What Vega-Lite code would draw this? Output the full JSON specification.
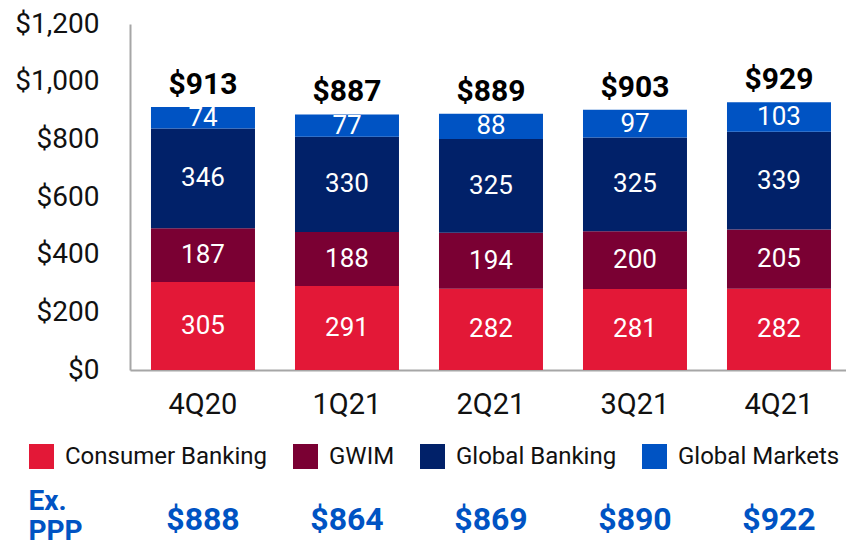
{
  "$schema": "https://vega.github.io/schema/vega-lite/v6.json",
  "width": 716,
  "height": 346,
  "autosize": {"type": "none"},
  "padding": {"left": 130, "top": 24, "right": 0, "bottom": 178},
  "config": {
    "view": {"stroke": null},
    "font": "Roboto",
    "axis": {"grid": false, "ticks": false}
  },
  "datasets": {
    "segments": [
      {"quarter": "4Q20", "segment": "Consumer Banking", "value": 305},
      {"quarter": "4Q20", "segment": "GWIM", "value": 187},
      {"quarter": "4Q20", "segment": "Global Banking", "value": 346},
      {"quarter": "4Q20", "segment": "Global Markets", "value": 74},
      {"quarter": "1Q21", "segment": "Consumer Banking", "value": 291},
      {"quarter": "1Q21", "segment": "GWIM", "value": 188},
      {"quarter": "1Q21", "segment": "Global Banking", "value": 330},
      {"quarter": "1Q21", "segment": "Global Markets", "value": 77},
      {"quarter": "2Q21", "segment": "Consumer Banking", "value": 282},
      {"quarter": "2Q21", "segment": "GWIM", "value": 194},
      {"quarter": "2Q21", "segment": "Global Banking", "value": 325},
      {"quarter": "2Q21", "segment": "Global Markets", "value": 88},
      {"quarter": "3Q21", "segment": "Consumer Banking", "value": 281},
      {"quarter": "3Q21", "segment": "GWIM", "value": 200},
      {"quarter": "3Q21", "segment": "Global Banking", "value": 325},
      {"quarter": "3Q21", "segment": "Global Markets", "value": 97},
      {"quarter": "4Q21", "segment": "Consumer Banking", "value": 282},
      {"quarter": "4Q21", "segment": "GWIM", "value": 205},
      {"quarter": "4Q21", "segment": "Global Banking", "value": 339},
      {"quarter": "4Q21", "segment": "Global Markets", "value": 103}
    ],
    "summary": [
      {"quarter": "4Q20", "total": 913, "ppp": 888},
      {"quarter": "1Q21", "total": 887, "ppp": 864},
      {"quarter": "2Q21", "total": 889, "ppp": 869},
      {"quarter": "3Q21", "total": 903, "ppp": 890},
      {"quarter": "4Q21", "total": 929, "ppp": 922}
    ]
  },
  "layer": [
    {
      "data": {"name": "segments"},
      "transform": [
        {"stack": "value", "groupby": ["quarter"], "sort": [{"field": "segment", "order": "ascending"}], "as": ["v0", "v1"]}
      ],
      "mark": {"type": "bar"},
      "encoding": {
        "x": {
          "field": "quarter", "type": "nominal", "sort": null,
          "scale": {"paddingInner": 0.2778, "paddingOuter": 0.125, "align": 0.583},
          "axis": {
            "title": null, "labelAngle": 0, "labelFontSize": 29, "labelColor": "#111111",
            "labelPadding": 20, "domainColor": "#a6a6a6", "domainWidth": 2
          }
        },
        "y": {
          "field": "v0", "type": "quantitative",
          "scale": {"domain": [0, 1200], "nice": false},
          "axis": {
            "values": [0, 200, 400, 600, 800, 1000, 1200], "format": "$,.0f",
            "labelFontSize": 28, "labelColor": "#111111", "labelPadding": 31,
            "domainColor": "#a6a6a6", "domainWidth": 2,
            "title": ["Ex.", "PPP"], "titleAngle": 0, "titleX": -102, "titleY": 485,
            "titleAlign": "left", "titleBaseline": "alphabetic", "titleFontSize": 28,
            "titleFontWeight": "bold", "titleColor": "#0053C3", "titleLineHeight": 30
          }
        },
        "y2": {"field": "v1"},
        "color": {
          "field": "segment", "type": "nominal",
          "scale": {
            "domain": ["Consumer Banking", "GWIM", "Global Banking", "Global Markets"],
            "range": ["#E31837", "#7A0033", "#012169", "#0053C3"]
          },
          "legend": {
            "title": null, "orient": "none", "direction": "horizontal", "columns": 4,
            "legendX": -101, "legendY": 420, "padding": 0,
            "symbolType": "square", "symbolSize": 625, "symbolStrokeWidth": 0,
            "labelFontSize": 24, "labelColor": "#111111", "labelOffset": 11,
            "columnPadding": 25, "labelLimit": 400
          }
        }
      }
    },
    {
      "data": {"name": "segments"},
      "transform": [
        {"stack": "value", "groupby": ["quarter"], "sort": [{"field": "segment", "order": "ascending"}], "as": ["v0", "v1"]},
        {"calculate": "(datum.v0 + datum.v1) / 2", "as": "mid"}
      ],
      "mark": {"type": "text", "color": "white", "fontSize": 26, "baseline": "middle"},
      "encoding": {
        "x": {"field": "quarter", "type": "nominal", "sort": null},
        "y": {"field": "mid", "type": "quantitative"},
        "text": {"field": "value", "type": "quantitative"}
      }
    },
    {
      "data": {"name": "summary"},
      "mark": {"type": "text", "color": "#000000", "fontSize": 30, "fontWeight": "bold", "baseline": "alphabetic", "dy": -13},
      "encoding": {
        "x": {"field": "quarter", "type": "nominal", "sort": null},
        "y": {"field": "total", "type": "quantitative"},
        "text": {"field": "total", "type": "quantitative", "format": "$,.0f"}
      }
    },
    {
      "data": {"name": "summary"},
      "mark": {"type": "text", "color": "#0053C3", "fontSize": 32, "fontWeight": "bold", "baseline": "middle", "dy": 150},
      "encoding": {
        "x": {"field": "quarter", "type": "nominal", "sort": null},
        "y": {"datum": 0, "type": "quantitative"},
        "text": {"field": "ppp", "type": "quantitative", "format": "$,.0f"}
      }
    }
  ]
}
